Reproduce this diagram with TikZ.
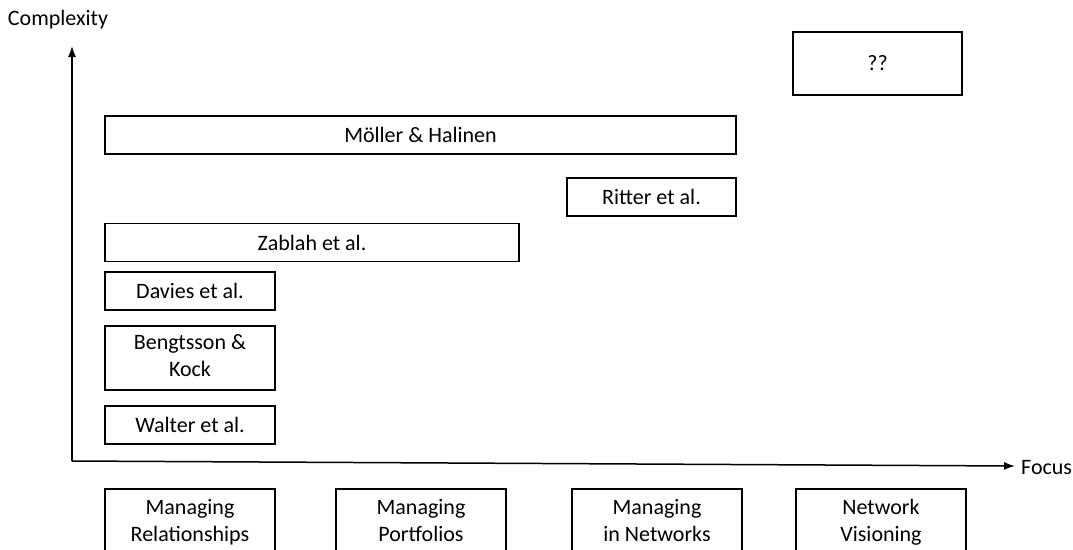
\documentclass[tikz,border=0pt]{standalone}
\usepackage{fontspec}
\setmainfont{Carlito}
\usetikzlibrary{arrows.meta}
\tikzset{
  lbl/.style={font=\fontsize{22}{27}\selectfont, inner sep=0pt},
  authorbox/.style={lbl, draw, line width=1.6pt, align=center, minimum height=38pt},
  focusbox/.style={authorbox, minimum width=170pt, minimum height=68pt},
  axis/.style={line width=1.5pt, -{Latex[length=11pt,width=8pt]}}
}
\begin{document}
\begin{tikzpicture}[x=1pt,y=-1pt]%
\useasboundingbox (0,0) rectangle (1073,549);%
%
% axes
\coordinate (origin) at (72,461);%
\coordinate (ytip) at (72,46);%
\coordinate (xtip) at (1015,466);%
\draw[axis] (origin) -- (ytip);%
\draw[axis] (origin) -- (xtip);%
\node[lbl] (complexity) at (58,20) {Complexity};%
\node[lbl, anchor=west] (focus) at (1021,468) {Focus};%
%
% literature
\node[authorbox, minimum width=631pt] (moller) at (420.5,135) {Möller \& Halinen};%
\node[authorbox, minimum width=169pt] (ritter) at (651.5,197) {Ritter et al.};%
\node[authorbox, minimum width=414pt] (zablah) at (312,242.5) {Zablah et al.};%
\node[authorbox, minimum width=170pt] (davies) at (190,291) {Davies et al.};%
\node[authorbox, minimum width=170pt, minimum height=64pt] (bengtsson) at (190,358) {\strut Bengtsson \&\\\strut Kock};%
\node[authorbox, minimum width=170pt] (walter) at (190,425) {Walter et al.};%
\node[authorbox, minimum width=169pt, minimum height=63pt] (unknown) at (877.5,63.5) {??};%
%
% focus areas
\node[focusbox] (relationships) at (190,523) {\strut Managing\\\strut Relationships};%
\node[focusbox] (portfolios) at (421,523) {\strut Managing\\\strut Portfolios};%
\node[focusbox] (networks) at (657,523) {\strut Managing\\\strut in Networks};%
\node[focusbox] (visioning) at (881,523) {\strut Network\\\strut Visioning};%
\end{tikzpicture}
\end{document}
